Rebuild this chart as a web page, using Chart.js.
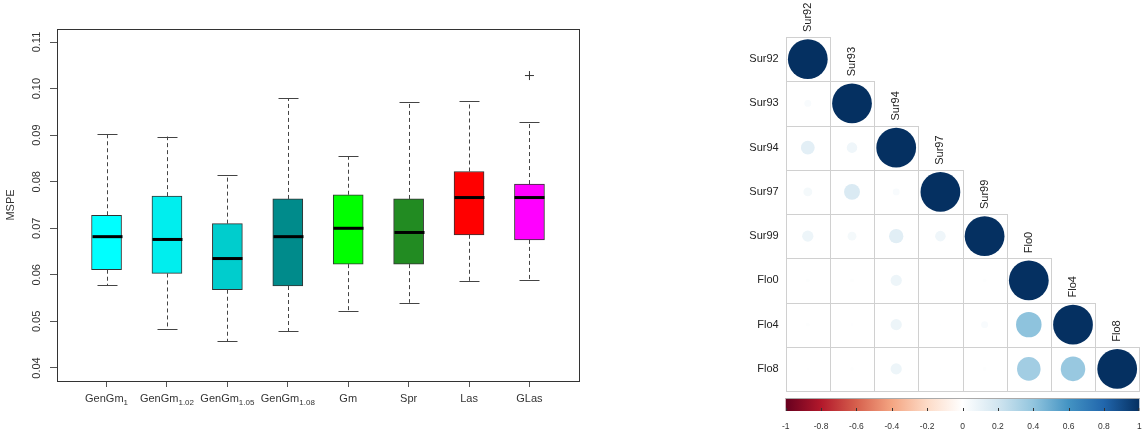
<!DOCTYPE html>
<html>
<head>
<meta charset="utf-8">
<script src="https://cdn.jsdelivr.net/npm/chart.js@4.4.0/dist/chart.umd.min.js"></script>
<style>
body { margin: 0; background: #fff; }
#left { position: absolute; left: 0; top: 0; width: 600px; height: 433px; }
#right { position: absolute; left: 600px; top: 0; width: 542px; height: 433px; }
</style>
</head>
<body>
<div id="left"><canvas id="boxChart"></canvas></div>
<div id="right"><canvas id="corrChart"></canvas></div>
<script>
// --- boxplot data (MSPE per method)
const methods = ['GenGm', 'GenGm', 'GenGm', 'GenGm', 'Gm', 'Spr', 'Las', 'GLas']
const methodSub = ['1', '1.02', '1.05', '1.08', '', '', '', '']
const lowerWhisker = [0.0578, 0.0484, 0.0457, 0.0479, 0.0522, 0.0540, 0.0587, 0.0588]
const q1 = [0.0611, 0.0603, 0.0568, 0.0576, 0.0623, 0.0623, 0.0686, 0.0675]
const medians = [0.0682, 0.0676, 0.0635, 0.0682, 0.0700, 0.0691, 0.0766, 0.0766]
const q3 = [0.0728, 0.0769, 0.0710, 0.0763, 0.0772, 0.0763, 0.0822, 0.0795]
const upperWhisker = [0.0903, 0.0897, 0.0814, 0.0979, 0.0855, 0.0971, 0.0973, 0.0928]
const outlierPos = [8]
const outlierVal = [0.1028]
const boxColors = ['#00FFFF', '#00EEEE', '#00CDCD', '#008B8B', '#00FF00', '#228B22', '#FF0000', '#FF00FF']
const yTicks = [0.04, 0.05, 0.06, 0.07, 0.08, 0.09, 0.10, 0.11]

// --- correlation data (lower triangle, row by row)
const vars = ['Sur92', 'Sur93', 'Sur94', 'Sur97', 'Sur99', 'Flo0', 'Flo4', 'Flo8']
const corr = [
    [1],
    [0.03, 1],
    [0.12, 0.07, 1],
    [0.05, 0.16, 0.03, 1],
    [0.08, 0.05, 0.13, 0.07, 1],
    [0.01, 0.01, 0.08, 0.005, 0.01, 1],
    [0.01, 0.005, 0.08, 0.003, 0.03, 0.41, 1],
    [0.005, 0.008, 0.08, 0.003, 0.01, 0.35, 0.38, 1]
]
const cbTicks = [-1, -0.8, -0.6, -0.4, -0.2, 0, 0.2, 0.4, 0.6, 0.8, 1]
const rdbu = ['#67001F', '#B2182B', '#D6604D', '#F4A582', '#FDDBC7', '#FFFFFF', '#D1E5F0', '#92C5DE', '#4393C3', '#2166AC', '#053061']

const FONT = '"Liberation Sans", Arial, sans-serif'
Chart.defaults.font.family = FONT

function hexRgb(h) {
    return [parseInt(h.slice(1, 3), 16), parseInt(h.slice(3, 5), 16), parseInt(h.slice(5, 7), 16)]
}
function corrColor(v) {
    const t = (v + 1) / 2 * 10
    const k = Math.max(0, Math.min(9, Math.floor(t)))
    const f = t - k
    const a = hexRgb(rdbu[k]), b = hexRgb(rdbu[k + 1])
    const c = a.map((av, n) => Math.round(av + (b[n] - av) * f))
    return `rgb(${c[0]},${c[1]},${c[2]})`
}

// whiskers, medians, frame and R-style labels
const boxExtras = {
    id: 'boxExtras',
    afterDatasetsDraw(chart) {
        const ctx = chart.ctx
        const x = chart.scales.x, y = chart.scales.y
        ctx.save()
        medians.forEach((m, i) => {
            const px = Math.round(x.getPixelForValue(i + 1)) + 0.5
            ctx.strokeStyle = '#444'
            ctx.lineWidth = 1
            ctx.setLineDash([4, 3])
            ctx.beginPath()
            ctx.moveTo(px, y.getPixelForValue(q3[i]))
            ctx.lineTo(px, y.getPixelForValue(upperWhisker[i]))
            ctx.moveTo(px, y.getPixelForValue(q1[i]))
            ctx.lineTo(px, y.getPixelForValue(lowerWhisker[i]))
            ctx.stroke()
            ctx.setLineDash([])
            ctx.beginPath()
            const hi = Math.round(y.getPixelForValue(upperWhisker[i])) + 0.5
            const lo = Math.round(y.getPixelForValue(lowerWhisker[i])) + 0.5
            ctx.moveTo(px - 10, hi); ctx.lineTo(px + 10, hi)
            ctx.moveTo(px - 10, lo); ctx.lineTo(px + 10, lo)
            ctx.stroke()
            ctx.strokeStyle = '#000'
            ctx.lineWidth = 3
            ctx.beginPath()
            const my = y.getPixelForValue(m)
            ctx.moveTo(px - 15, my); ctx.lineTo(px + 15, my)
            ctx.stroke()
        })
        ctx.restore()
    },
    afterDraw(chart) {
        const ctx = chart.ctx
        const a = chart.chartArea
        const x = chart.scales.x, y = chart.scales.y
        ctx.save()
        ctx.strokeStyle = '#333'
        ctx.lineWidth = 1
        ctx.strokeRect(Math.round(a.left) + 0.5, Math.round(a.top) + 0.5, Math.round(a.right - a.left), Math.round(a.bottom - a.top))
        ctx.fillStyle = '#333'
        ctx.font = '11px ' + FONT
        ctx.textAlign = 'center'
        ctx.textBaseline = 'middle'
        y.ticks.forEach(t => {
            ctx.save()
            ctx.translate(37, y.getPixelForValue(t.value))
            ctx.rotate(-Math.PI / 2)
            ctx.fillText(t.value.toFixed(2), 0, 0)
            ctx.restore()
        })
        ctx.save()
        ctx.translate(11, (a.top + a.bottom) / 2)
        ctx.rotate(-Math.PI / 2)
        ctx.fillText('MSPE', 0, 0)
        ctx.restore()
        ctx.textBaseline = 'alphabetic'
        ctx.textAlign = 'left'
        methods.forEach((name, i) => {
            const px = x.getPixelForValue(i + 1)
            ctx.font = '11px ' + FONT
            const w1 = ctx.measureText(name).width
            ctx.font = '8px ' + FONT
            const w2 = methodSub[i] ? ctx.measureText(methodSub[i]).width : 0
            const sx = px - (w1 + w2) / 2
            ctx.font = '11px ' + FONT
            ctx.fillText(name, sx, 402)
            if (methodSub[i]) {
                ctx.font = '8px ' + FONT
                ctx.fillText(methodSub[i], sx + w1, 405)
            }
        })
        ctx.restore()
    }
}

new Chart(document.getElementById('boxChart'), {
    type: 'bar',
    data: {
        datasets: [{
            data: methods.map((m, i) => ({ x: i + 1, y: [q1[i], q3[i]] })),
            backgroundColor: boxColors,
            borderColor: '#333',
            borderWidth: 1,
            borderSkipped: false,
            barThickness: 30
        }, {
            type: 'scatter',
            data: outlierPos.map((p, i) => ({ x: p, y: outlierVal[i] })),
            pointStyle: 'cross',
            pointRadius: 4.5,
            borderColor: '#333',
            borderWidth: 1
        }]
    },
    options: {
        responsive: true,
        maintainAspectRatio: false,
        animation: false,
        events: [],
        layout: { padding: { left: 0, right: 21, top: 29, bottom: 0 } },
        plugins: { legend: { display: false }, tooltip: { enabled: false } },
        scales: {
            x: {
                type: 'linear',
                min: 0.18,
                max: 8.82,
                offset: false,
                afterBuildTicks: s => { s.ticks = methods.map((m, i) => ({ value: i + 1 })) },
                afterFit: s => { s.height = 52 },
                ticks: { display: false },
                grid: { display: true, offset: false, drawOnChartArea: false, tickLength: 6, color: '#555' },
                border: { display: false }
            },
            y: {
                min: 0.0372,
                max: 0.1128,
                afterBuildTicks: s => { s.ticks = yTicks.map(v => ({ value: v })) },
                afterFit: s => { s.width = 57 },
                ticks: { display: false },
                grid: { display: true, drawOnChartArea: false, tickLength: 7, color: '#555' },
                border: { display: false }
            }
        }
    },
    plugins: [boxExtras]
})

// correlation plot: grid, labels and colour bar
const cells = []
corr.forEach((row, i) => row.forEach((v, j) => cells.push({ x: j + 1, y: i + 1, r: v })))

const corrExtras = {
    id: 'corrExtras',
    beforeDatasetsDraw(chart) {
        const ctx = chart.ctx
        const x = chart.scales.x, y = chart.scales.y
        ctx.save()
        ctx.strokeStyle = '#d0d0d0'
        ctx.lineWidth = 1
        corr.forEach((row, i) => row.forEach((v, j) => {
            const l = Math.round(x.getPixelForValue(j + 0.5)) + 0.5
            const r = Math.round(x.getPixelForValue(j + 1.5)) + 0.5
            const t = Math.round(y.getPixelForValue(i + 0.5)) + 0.5
            const b = Math.round(y.getPixelForValue(i + 1.5)) + 0.5
            ctx.strokeRect(l, t, r - l, b - t)
        }))
        ctx.restore()
    },
    afterDraw(chart) {
        const ctx = chart.ctx
        const a = chart.chartArea
        const x = chart.scales.x, y = chart.scales.y
        ctx.save()
        ctx.fillStyle = '#222'
        ctx.font = '11px ' + FONT
        ctx.textAlign = 'right'
        ctx.textBaseline = 'middle'
        vars.forEach((v, i) => ctx.fillText(v, a.left - 7, y.getPixelForValue(i + 1)))
        ctx.textAlign = 'left'
        vars.forEach((v, j) => {
            ctx.save()
            ctx.translate(x.getPixelForValue(j + 1), y.getPixelForValue(j + 0.5) - 5)
            ctx.rotate(-Math.PI / 2)
            ctx.fillText(v, 0, 0)
            ctx.restore()
        })
        // colour bar
        const top = 398, bot = 411
        const g = ctx.createLinearGradient(a.left, 0, a.right, 0)
        rdbu.forEach((c, k) => g.addColorStop(k / 10, c))
        ctx.fillStyle = g
        ctx.fillRect(a.left, top, a.right - a.left, bot - top)
        ctx.strokeStyle = '#aaa'
        ctx.lineWidth = 1
        ctx.beginPath()
        ctx.moveTo(a.left, top + 0.5); ctx.lineTo(a.right, top + 0.5)
        ctx.stroke()
        ctx.strokeStyle = '#333'
        ctx.fillStyle = '#333'
        ctx.font = '8.5px ' + FONT
        ctx.textAlign = 'center'
        ctx.textBaseline = 'middle'
        cbTicks.forEach(t => {
            const px = a.left + (t + 1) / 2 * (a.right - a.left)
            const tx = Math.min(Math.max(Math.round(px), a.left), a.right - 1) + 0.5
            ctx.beginPath()
            ctx.moveTo(tx, bot - 3); ctx.lineTo(tx, bot)
            ctx.stroke()
            ctx.fillText(String(t), px, 427)
        })
        ctx.restore()
    }
}

new Chart(document.getElementById('corrChart'), {
    type: 'scatter',
    data: {
        datasets: [{
            data: cells,
            borderWidth: 0,
            pointRadius: c => {
                const xs = c.chart.scales.x
                const cell = Math.abs(xs.getPixelForValue(1) - xs.getPixelForValue(0))
                return 0.45 * Math.sqrt(Math.abs(c.raw.r)) * cell
            },
            backgroundColor: c => corrColor(c.raw.r)
        }]
    },
    options: {
        responsive: true,
        maintainAspectRatio: false,
        animation: false,
        events: [],
        layout: { padding: { left: 185.7, right: 2.7, top: 37, bottom: 42 } },
        plugins: { legend: { display: false }, tooltip: { enabled: false } },
        scales: {
            x: { type: 'linear', min: 0.5, max: 8.5, display: false },
            y: { type: 'linear', min: 0.5, max: 8.5, reverse: true, display: false }
        }
    },
    plugins: [corrExtras]
})
</script>
</body>
</html>
